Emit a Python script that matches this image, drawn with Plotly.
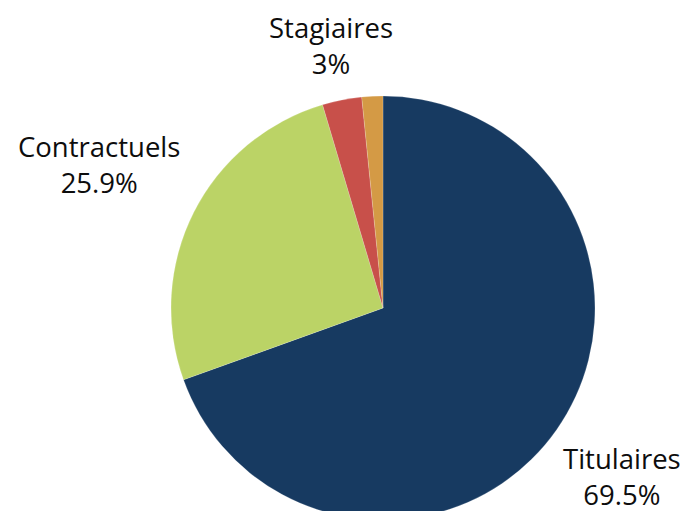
import math
import plotly.graph_objects as go

# Répartition des effectifs par statut
labels = ["Titulaires", "Contractuels", "Stagiaires", "Autres"]
values = [69.5, 25.9, 3.0, 1.6]
show_label = [True, True, True, False]
colors = ["#173A61", "#BBD366", "#C8504A", "#D49A45"]

# distance of each label centre from the pie centre, in radii
label_dist = [1.38, 1.50, 1.26, 1.3]

W, H = 687, 530
# pie placement in pixels (centre x, centre y from top, radius)
cx, cy, R = 383, 308, 212

fig = go.Figure(go.Pie(
    labels=labels,
    values=values,
    sort=False,
    direction="clockwise",
    rotation=0,
    marker=dict(colors=colors, line=dict(color="rgba(255,255,255,0.35)", width=0.5)),
    textinfo="none",
    hoverinfo="label+percent",
    showlegend=False,
    automargin=False,
    domain=dict(x=[(cx - R) / W, (cx + R) / W], y=[(H - cy - R) / H, (H - cy + R) / H]),
))

# labels centred on each slice's mid-angle, outside the pie
total = sum(values)
start = 0.0
for lab, val, show, d in zip(labels, values, show_label, label_dist):
    frac = val / total
    mid = (start + frac / 2) * 2 * math.pi
    start += frac
    if not show:
        continue
    px = cx + d * R * math.sin(mid)
    py = cy - d * R * math.cos(mid)
    pct = f"{frac * 100:.1f}".rstrip("0").rstrip(".")
    fig.add_annotation(
        x=px / W, y=1 - py / H, xref="paper", yref="paper",
        text=f"{lab}<br>{pct}%", showarrow=False,
        xanchor="center", yanchor="middle", align="center",
        font=dict(family="Open Sans", size=27.5, color="#0D0D0D"),
    )

fig.update_layout(
    width=W,
    height=H,
    margin=dict(l=0, r=0, t=0, b=0),
    paper_bgcolor="white",
    plot_bgcolor="white",
)

fig.write_html(
    "out.html",
    post_script="document.body.style.overflow='hidden';document.documentElement.style.overflow='hidden';",
)
